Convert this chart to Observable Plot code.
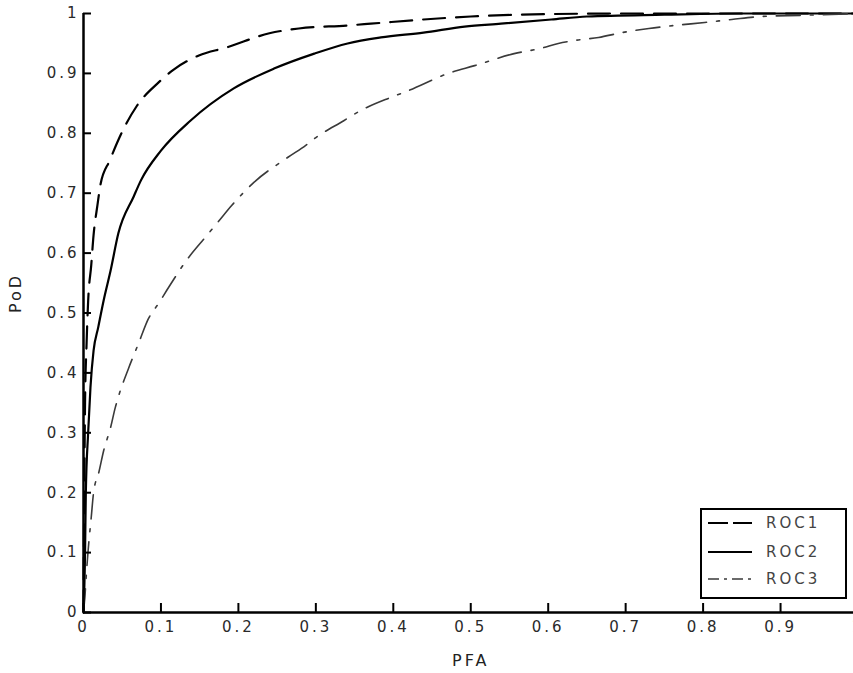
<!DOCTYPE html>
<html><head><meta charset="utf-8">
<script src="https://cdn.jsdelivr.net/npm/d3@7"></script>
<script src="https://cdn.jsdelivr.net/npm/@observablehq/plot@0.6"></script>
<style>
html,body{margin:0;padding:0;background:#fff;overflow:hidden;}
#wrap{position:relative;width:853px;height:673px;}
#legend{position:absolute;left:700px;top:508px;width:143px;height:87px;border:2px solid #000;background:#fff;}
</style></head><body><div id="wrap"></div>
<script>
// ---- data ----
const roc1PFA = [0, 0.001, 0.002, 0.004, 0.006, 0.01, 0.013, 0.018, 0.022, 0.034, 0.052, 0.069, 0.097, 0.116, 0.149, 0.184, 0.24, 0.278, 0.341, 0.371, 0.439, 0.5, 0.6, 0.7, 1];
const roc1PoD = [0, 0.2, 0.35, 0.45, 0.52, 0.58, 0.63, 0.68, 0.715, 0.755, 0.808, 0.846, 0.885, 0.906, 0.93, 0.943, 0.967, 0.975, 0.98, 0.983, 0.99, 0.995, 0.999, 1, 1];

const roc2PFA = [0, 0.002, 0.003, 0.006, 0.009, 0.013, 0.019, 0.026, 0.035, 0.045, 0.065, 0.074, 0.1, 0.138, 0.194, 0.246, 0.298, 0.341, 0.384, 0.439, 0.492, 0.539, 0.604, 0.65, 0.75, 0.85, 1];
const roc2PoD = [0, 0.1, 0.2, 0.3, 0.376, 0.437, 0.476, 0.521, 0.571, 0.633, 0.695, 0.721, 0.771, 0.821, 0.875, 0.908, 0.933, 0.95, 0.96, 0.968, 0.978, 0.983, 0.99, 0.995, 0.998, 1, 1];

const roc3PFA = [0, 0.002, 0.004, 0.006, 0.01, 0.013, 0.02, 0.026, 0.035, 0.041, 0.045, 0.058, 0.071, 0.084, 0.097, 0.11, 0.133, 0.159, 0.175, 0.191, 0.22, 0.264, 0.287, 0.298, 0.336, 0.358, 0.397, 0.419, 0.471, 0.505, 0.556, 0.591, 0.613, 0.634, 0.665, 0.695, 0.73, 0.763, 0.802, 0.837, 0.876, 0.928, 1];
const roc3PoD = [0, 0.03, 0.07, 0.104, 0.159, 0.2, 0.235, 0.27, 0.309, 0.342, 0.36, 0.407, 0.449, 0.491, 0.516, 0.543, 0.588, 0.629, 0.654, 0.679, 0.718, 0.76, 0.78, 0.791, 0.821, 0.838, 0.86, 0.871, 0.9, 0.913, 0.933, 0.942, 0.95, 0.955, 0.96, 0.968, 0.975, 0.98, 0.985, 0.99, 0.995, 0.997, 1];

const seriesNames = ["ROC1", "ROC2", "ROC3"];
const xTicks = [0, 0.1, 0.2, 0.3, 0.4, 0.5, 0.6, 0.7, 0.8, 0.9, 1];
const yTicks = [0, 0.1, 0.2, 0.3, 0.4, 0.5, 0.6, 0.7, 0.8, 0.9, 1];
const xLabel = "PFA";
const yLabel = "PoD";

// ---- styles ----
const seriesStyle = {
  ROC1: {stroke: "#000", width: 2.2, dash: "22,11"},
  ROC2: {stroke: "#000", width: 2.2, dash: null},
  ROC3: {stroke: "#3a3a3a", width: 1.6, dash: "24,10,3,10"}
};
const legendDash = {ROC1: "20,5", ROC2: null, ROC3: "11,5,3,5"};

const rows = (pfa, pod) => pfa.map((p, i) => ({pfa: p, pod: pod[i]}));
const seriesData = [rows(roc1PFA, roc1PoD), rows(roc2PFA, roc2PoD), rows(roc3PFA, roc3PoD)];
const fmt = d3.format("~g");
const font = "'DejaVu Sans', sans-serif";

// layout
const W = 853, H = 673, mL = 83, mR = -4.5, mT = 13, mB = 61;
const frameW = W - mL - mR, frameH = H - mT - mB;
const xTickLen = 9, yTickLen = 8;

const lineMarks = seriesNames.map((name, i) => Plot.line(seriesData[i], {
  x: "pfa", y: "pod",
  stroke: seriesStyle[name].stroke,
  strokeWidth: seriesStyle[name].width,
  strokeDasharray: seriesStyle[name].dash,
  curve: "monotone-x"
}));

const plot = Plot.plot({
  width: W, height: H,
  marginLeft: mL, marginRight: mR, marginTop: mT, marginBottom: mB,
  x: {domain: [0, 1]},
  y: {domain: [0, 1]},
  style: {fontFamily: font, fontSize: "15px", color: "#000", background: "#fff", overflow: "visible", letterSpacing: "3px"},
  marks: [
    ...lineMarks,
    Plot.axisX({ticks: xTicks, tickFormat: fmt, tickSize: 0, tickPadding: 9, label: null, fill: "#2a2a2a"}),
    Plot.axisY({ticks: yTicks, tickFormat: fmt, tickSize: 0, tickPadding: 4, label: null, fill: "#2a2a2a"}),
    // inward ticks: full-frame rules inset to a short stub at the axis
    Plot.ruleX(xTicks, {x: d => d, insetTop: frameH - xTickLen, stroke: "#000", strokeWidth: 2}),
    Plot.ruleY(yTicks, {y: d => d, insetRight: frameW - yTickLen, stroke: "#000", strokeWidth: 2}),
    Plot.ruleY([0], {strokeWidth: 2.5}),
    Plot.ruleX([0], {strokeWidth: 2.5}),
    Plot.text([xLabel], {text: d => d, frameAnchor: "bottom", dy: 53, lineAnchor: "bottom", fontSize: 16, fill: "#222", letterSpacing: "4px"}),
    Plot.text([yLabel], {text: d => d, frameAnchor: "left", dx: -68, rotate: -90, fontSize: 16, fill: "#222"})
  ]
});

const wrap = document.getElementById("wrap");
wrap.appendChild(plot);

// ---- legend overlay ----
const legend = d3.select(wrap).append("div").attr("id", "legend");
const lsvg = legend.append("svg").attr("width", 143).attr("height", 87)
  .style("font-family", font).style("font-size", "15px").style("letter-spacing", "3px");
const rowY = [13, 42, 69];
seriesNames.forEach((name, i) => {
  lsvg.append("line").attr("x1", 6).attr("x2", 50).attr("y1", rowY[i]).attr("y2", rowY[i])
    .attr("stroke", seriesStyle[name].stroke).attr("stroke-width", seriesStyle[name].width)
    .attr("stroke-dasharray", legendDash[name]);
  lsvg.append("text").attr("x", 64).attr("y", rowY[i]).attr("dy", "0.36em")
    .attr("fill", "#444").text(name);
});
</script>
</body></html>
